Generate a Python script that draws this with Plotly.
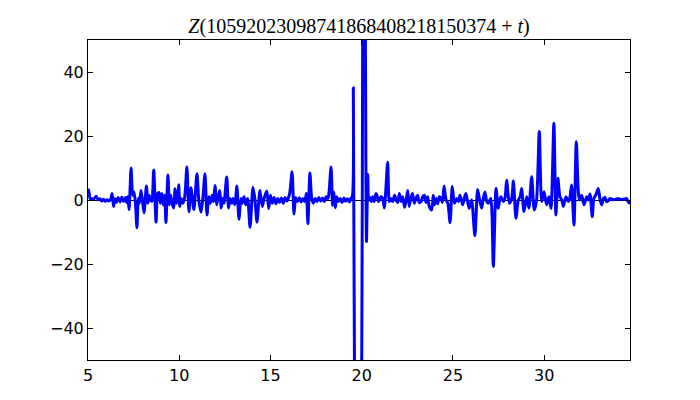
import plotly.graph_objects as go

t_vals = [
    5.00, 5.05, 5.12, 5.20, 5.30, 5.45, 5.55, 5.65, 5.75, 5.85, 5.95, 6.05, 6.15, 6.25,
    6.32, 6.40, 6.48, 6.55, 6.65, 6.75, 6.85, 6.95, 7.05, 7.12, 7.18, 7.25, 7.36, 7.45,
    7.52, 7.60, 7.68, 7.76, 7.82, 7.90, 7.98, 8.07, 8.20, 8.28, 8.35, 8.42, 8.50, 8.60,
    8.73, 8.82, 8.90, 8.97, 9.05, 9.12, 9.20, 9.27, 9.38, 9.46, 9.53, 9.60, 9.70, 9.77,
    9.85, 9.92, 9.97, 10.03, 10.10, 10.20, 10.30, 10.42, 10.53, 10.64, 10.80, 10.97,
    11.08, 11.20, 11.30, 11.41, 11.52, 11.62, 11.70, 11.80, 11.88, 11.96, 12.05, 12.15,
    12.22, 12.30, 12.38, 12.45, 12.60, 12.70, 12.78, 12.88, 12.95, 13.05, 13.16, 13.27,
    13.38, 13.45, 13.55, 13.65, 13.75, 13.88, 14.04, 14.15, 14.26, 14.42, 14.55, 14.65,
    14.80, 14.90, 15.00, 15.10, 15.20, 15.30, 15.40, 15.50, 15.60, 15.70, 15.80, 15.90,
    16.05, 16.18, 16.29, 16.38, 16.48, 16.58, 16.68, 16.78, 16.88, 16.97, 17.05, 17.16,
    17.26, 17.35, 17.45, 17.55, 17.65, 17.75, 17.85, 17.95, 18.05, 18.15, 18.20, 18.32,
    18.40, 18.47, 18.55, 18.63, 18.72, 18.82, 18.92, 19.02, 19.12, 19.22, 19.32, 19.40,
    19.48, 19.54, 19.60, 19.80, 20.00, 20.05, 20.12, 20.20, 20.26, 20.33, 20.38, 20.45,
    20.52, 20.60, 20.68, 20.78, 20.86, 20.93, 21.05, 21.15, 21.24, 21.42, 21.51, 21.60,
    21.70, 21.80, 21.88, 21.97, 22.06, 22.15, 22.24, 22.35, 22.45, 22.52, 22.60, 22.70,
    22.78, 22.88, 22.97, 23.06, 23.15, 23.25, 23.34, 23.43, 23.52, 23.61, 23.70, 23.83,
    23.92, 23.98, 24.08, 24.16, 24.25, 24.34, 24.42, 24.51, 24.62, 24.72, 24.84, 24.96,
    25.08, 25.20, 25.30, 25.38, 25.46, 25.53, 25.62, 25.71, 25.80, 25.89, 26.02, 26.20,
    26.35, 26.46, 26.57, 26.66, 26.75, 26.85, 26.93, 27.07, 27.21, 27.36, 27.48, 27.56,
    27.63, 27.76, 27.85, 27.94, 28.09, 28.22, 28.31, 28.45, 28.58, 28.68, 28.76, 28.89,
    29.04, 29.16, 29.31, 29.45, 29.58, 29.73, 29.86, 29.99, 30.13, 30.26, 30.37, 30.53,
    30.64, 30.75, 30.86, 30.96, 31.05, 31.19, 31.32, 31.40, 31.50, 31.63, 31.76, 31.92,
    32.05, 32.18, 32.33, 32.42, 32.51, 32.63, 32.72, 32.82, 32.96, 33.06, 33.15, 33.24,
    33.33, 33.42, 33.51, 33.60, 33.70, 33.80, 33.90, 34.00, 34.10, 34.20, 34.30, 34.40,
    34.50, 34.60, 34.70,
]
z_vals = [
    3.5, 2.5, 0.3, 0.5, 0.2, 1.2, 0.1, 0.4, -0.3, 0.2, -0.4, 0.1, -0.3, 0.3,
    2.0, -2.0, 0.5, -0.8, 0.8, -0.6, 0.9, -0.5, 0.8, -0.8, 1.0, -3.0, 10.0, 1.5,
    2.5, -1.0, -8.7, 0.5, -1.0, 3.0, 0.0, -4.0, 4.4, -1.0, 1.5, 0.2, -0.5, 9.4,
    -6.9, 2.0, 2.3, -1.0, 2.0, -1.5, 1.5, -7.0, 7.8, -1.5, 1.5, -1.0, -2.5, 3.5,
    -1.0, 1.5, 4.8, -2.0, 0.5, -1.0, 1.0, 10.3, -3.7, 3.8, -3.0, 8.2,
    -0.5, -3.8, 1.0, 8.2, -4.7, 1.0, -1.0, 1.5, -0.5, 4.5, -1.5, 1.5,
    3.0, -2.5, 0.5, -1.0, 7.2, -2.5, 0.5, -1.0, 0.5, -1.5, 4.4, -6.0,
    0.5, -1.0, 1.0, -1.5, 0.5, -8.5, 4.0, 0.0, -6.9, 3.0, -2.0, 0.5,
    2.8, -2.7, 1.5, -1.0, 0.8, -1.2, 0.5, -0.8, 0.6, -1.0, 0.8, -0.3,
    2.0, 8.8, -4.4, 0.8, -0.5, 0.7, -0.6, 0.5, -0.5, 2.0, -7.4, 8.4,
    0.5, -1.0, 0.5, -0.5, 0.8, -0.4, 0.6, -0.5, 1.0, 0.5, 2.0, 10.3,
    -1.7, 2.5, -2.4, 1.0, -0.5, 0.5, -0.8, 0.6, -0.4, 0.4, -0.6, 0.5,
    1.0, 35.0, -50.0, -140.0, -50.0, 50.0, 130.0, 50.0, -13.0, 8.0, 0.0, 0.8,
    -0.5, 1.0, -0.5, 2.0, 1.0, -0.5, 1.0, 0.5, -2.5, 11.8, -0.5, 0.5,
    -0.5, 1.5, 0.0, -0.8, 2.0, -0.5, 1.0, -2.3, 0.5, 3.0, -2.0, 0.8,
    2.0, -1.0, 0.5, 1.5, -0.8, -0.5, 1.0, 1.5, -0.8, 1.0, -2.0, -3.1,
    1.5, -1.5, 0.5, -1.2, 1.0, 0.5, -0.8, 4.4, 0.0, -1.0, -7.1, 4.2,
    -1.0, 0.5, -0.5, 1.5, 0.0, -1.5, 0.5, 2.0, -0.5, -2.6, 0.0, -11.2,
    3.3, 0.0, -2.6, 0.5, 2.5, -0.5, -1.0, 0.5, -20.8, 3.6, -2.6, 0.0,
    1.0, -0.5, 0.5, 6.2, -1.0, 0.5, 5.9, -5.7, 0.0, 1.0, 3.6, -3.6,
    1.0, -2.5, 7.3, -3.1, 0.0, 21.4, -0.5, 2.6, -1.5, 1.0, -2.6, 24.0,
    -4.7, 6.8, 1.0, 0.0, -2.0, 1.0, -0.5, 0.5, 4.7, -7.8, 18.2, 0.0,
    1.5, -1.5, 1.0, 0.0, 1.9, -5.2, 0.5, 1.5, 3.6, 0.0, -1.5, 0.5,
    0.8, -0.5, -0.3, 0.5, 0.3, 0.1, 0.2, 0.4, 0.4, 0.2, 0.2, 0.3,
    0.5, -0.5, -1.2,
]

title_text = "<i>Z</i>(10592023098741868408218150374 + <i>t</i>)"
x_ticks = [5, 10, 15, 20, 25, 30]
y_ticks = [-40, -20, 0, 20, 40]

fig = go.Figure()
fig.add_trace(go.Scatter(
    x=t_vals, y=z_vals, mode="lines",
    line=dict(color="#0000ff", width=3, shape="spline", smoothing=0.7),
    showlegend=False, hoverinfo="skip",
))

axis_common = dict(
    showline=True, linecolor="black", linewidth=1, mirror="ticks",
    ticks="inside", ticklen=5, tickwidth=1, tickcolor="black",
    showgrid=False,
    tickfont=dict(family="DejaVu Sans", size=16, color="black"),
)

fig.update_layout(
    width=700, height=400,
    margin=dict(l=88, r=70, t=40, b=40),
    paper_bgcolor="white", plot_bgcolor="white",
    hovermode=False,
    title=dict(
        text=title_text, x=359 / 700, xanchor="center",
        y=1 - 26 / 400, yanchor="middle",
        font=dict(family="Liberation Serif", size=20, color="black"),
    ),
    xaxis=dict(range=[5, 34.7], tickvals=x_ticks, zeroline=False,
               ticklabelstandoff=1, **axis_common),
    yaxis=dict(range=[-50, 50], tickvals=y_ticks, zeroline=True,
               zerolinecolor="black", zerolinewidth=1,
               ticklabelstandoff=0, **axis_common),
)

fig.write_html("out.html", config={"displayModeBar": False},
               post_script="document.body.style.margin='0px';")
